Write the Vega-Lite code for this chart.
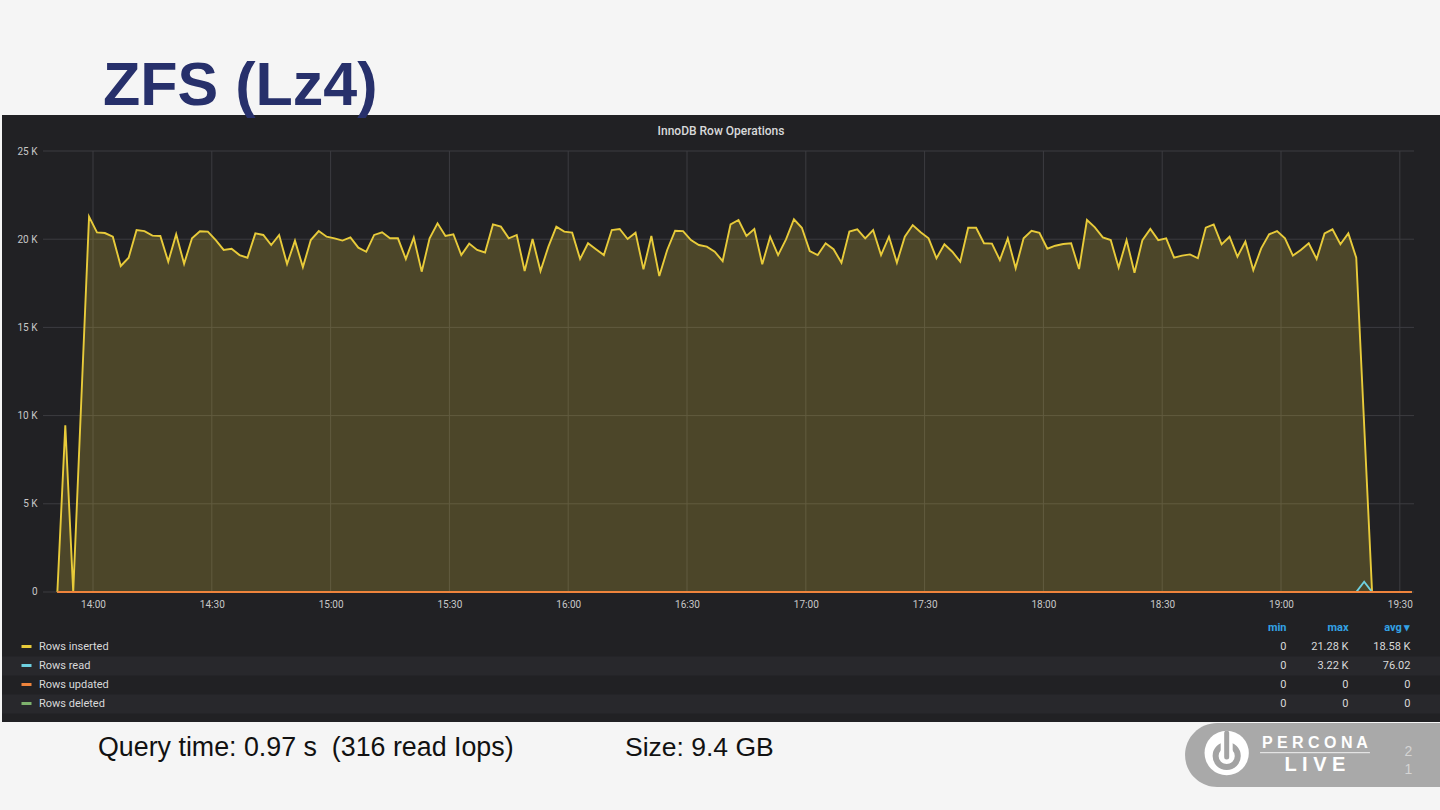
{
  "$schema": "https://vega.github.io/schema/vega-lite/v6.json",
  "width": 1438,
  "height": 607,
  "padding": {"left": 2, "top": 56, "right": 0, "bottom": 23},
  "background": "#f5f5f5",
  "title": {"text": "ZFS (Lz4)", "anchor": "start", "frame": "group", "dx": 101, "offset": -51, "baseline": "alphabetic", "font": "Liberation Sans", "fontSize": 61, "fontWeight": "bold", "color": "#27306b"},
  "config": {
    "view": {"fill": "#212124", "stroke": null},
    "axis": {"labelFont": "Roboto", "labelFontSize": 10, "labelColor": "#c8c8c8", "domain": false, "ticks": false, "grid": false}
  },
  "layer": [
    {
      "data": {
        "format": {"parse": {"time": "date:'%H:%M'"}},
        "values": [
          {"time": "13:51", "series": "Rows inserted", "value": 0},
          {"time": "13:53", "series": "Rows inserted", "value": 9450},
          {"time": "13:55", "series": "Rows inserted", "value": 0},
          {"time": "13:59", "series": "Rows inserted", "value": 21280},
          {"time": "14:01", "series": "Rows inserted", "value": 20390},
          {"time": "14:03", "series": "Rows inserted", "value": 20350},
          {"time": "14:05", "series": "Rows inserted", "value": 20140},
          {"time": "14:07", "series": "Rows inserted", "value": 18480},
          {"time": "14:09", "series": "Rows inserted", "value": 18950},
          {"time": "14:11", "series": "Rows inserted", "value": 20520},
          {"time": "14:13", "series": "Rows inserted", "value": 20460},
          {"time": "14:15", "series": "Rows inserted", "value": 20200},
          {"time": "14:17", "series": "Rows inserted", "value": 20180},
          {"time": "14:19", "series": "Rows inserted", "value": 18730},
          {"time": "14:21", "series": "Rows inserted", "value": 20280},
          {"time": "14:23", "series": "Rows inserted", "value": 18610},
          {"time": "14:25", "series": "Rows inserted", "value": 20050},
          {"time": "14:27", "series": "Rows inserted", "value": 20450},
          {"time": "14:29", "series": "Rows inserted", "value": 20430},
          {"time": "14:31", "series": "Rows inserted", "value": 19950},
          {"time": "14:33", "series": "Rows inserted", "value": 19390},
          {"time": "14:35", "series": "Rows inserted", "value": 19460},
          {"time": "14:37", "series": "Rows inserted", "value": 19100},
          {"time": "14:39", "series": "Rows inserted", "value": 18950},
          {"time": "14:41", "series": "Rows inserted", "value": 20330},
          {"time": "14:43", "series": "Rows inserted", "value": 20240},
          {"time": "14:45", "series": "Rows inserted", "value": 19670},
          {"time": "14:47", "series": "Rows inserted", "value": 20240},
          {"time": "14:49", "series": "Rows inserted", "value": 18590},
          {"time": "14:51", "series": "Rows inserted", "value": 19920},
          {"time": "14:53", "series": "Rows inserted", "value": 18420},
          {"time": "14:55", "series": "Rows inserted", "value": 19950},
          {"time": "14:57", "series": "Rows inserted", "value": 20460},
          {"time": "14:59", "series": "Rows inserted", "value": 20140},
          {"time": "15:01", "series": "Rows inserted", "value": 20050},
          {"time": "15:03", "series": "Rows inserted", "value": 19920},
          {"time": "15:05", "series": "Rows inserted", "value": 20100},
          {"time": "15:07", "series": "Rows inserted", "value": 19520},
          {"time": "15:09", "series": "Rows inserted", "value": 19290},
          {"time": "15:11", "series": "Rows inserted", "value": 20240},
          {"time": "15:13", "series": "Rows inserted", "value": 20390},
          {"time": "15:15", "series": "Rows inserted", "value": 20050},
          {"time": "15:17", "series": "Rows inserted", "value": 20050},
          {"time": "15:19", "series": "Rows inserted", "value": 18880},
          {"time": "15:21", "series": "Rows inserted", "value": 20090},
          {"time": "15:23", "series": "Rows inserted", "value": 18160},
          {"time": "15:25", "series": "Rows inserted", "value": 20050},
          {"time": "15:27", "series": "Rows inserted", "value": 20900},
          {"time": "15:29", "series": "Rows inserted", "value": 20180},
          {"time": "15:31", "series": "Rows inserted", "value": 20280},
          {"time": "15:33", "series": "Rows inserted", "value": 19100},
          {"time": "15:35", "series": "Rows inserted", "value": 19750},
          {"time": "15:37", "series": "Rows inserted", "value": 19390},
          {"time": "15:39", "series": "Rows inserted", "value": 19250},
          {"time": "15:41", "series": "Rows inserted", "value": 20840},
          {"time": "15:43", "series": "Rows inserted", "value": 20710},
          {"time": "15:45", "series": "Rows inserted", "value": 20050},
          {"time": "15:47", "series": "Rows inserted", "value": 20240},
          {"time": "15:49", "series": "Rows inserted", "value": 18200},
          {"time": "15:51", "series": "Rows inserted", "value": 20010},
          {"time": "15:53", "series": "Rows inserted", "value": 18200},
          {"time": "15:55", "series": "Rows inserted", "value": 19580},
          {"time": "15:57", "series": "Rows inserted", "value": 20710},
          {"time": "15:59", "series": "Rows inserted", "value": 20430},
          {"time": "16:01", "series": "Rows inserted", "value": 20370},
          {"time": "16:03", "series": "Rows inserted", "value": 18880},
          {"time": "16:05", "series": "Rows inserted", "value": 19770},
          {"time": "16:07", "series": "Rows inserted", "value": 19430},
          {"time": "16:09", "series": "Rows inserted", "value": 19100},
          {"time": "16:11", "series": "Rows inserted", "value": 20520},
          {"time": "16:13", "series": "Rows inserted", "value": 20580},
          {"time": "16:15", "series": "Rows inserted", "value": 20010},
          {"time": "16:17", "series": "Rows inserted", "value": 20370},
          {"time": "16:19", "series": "Rows inserted", "value": 18290},
          {"time": "16:21", "series": "Rows inserted", "value": 20180},
          {"time": "16:23", "series": "Rows inserted", "value": 17910},
          {"time": "16:25", "series": "Rows inserted", "value": 19390},
          {"time": "16:27", "series": "Rows inserted", "value": 20480},
          {"time": "16:29", "series": "Rows inserted", "value": 20460},
          {"time": "16:31", "series": "Rows inserted", "value": 19950},
          {"time": "16:33", "series": "Rows inserted", "value": 19670},
          {"time": "16:35", "series": "Rows inserted", "value": 19580},
          {"time": "16:37", "series": "Rows inserted", "value": 19290},
          {"time": "16:39", "series": "Rows inserted", "value": 18760},
          {"time": "16:41", "series": "Rows inserted", "value": 20840},
          {"time": "16:43", "series": "Rows inserted", "value": 21090},
          {"time": "16:45", "series": "Rows inserted", "value": 20180},
          {"time": "16:47", "series": "Rows inserted", "value": 20580},
          {"time": "16:49", "series": "Rows inserted", "value": 18580},
          {"time": "16:51", "series": "Rows inserted", "value": 20140},
          {"time": "16:53", "series": "Rows inserted", "value": 19100},
          {"time": "16:55", "series": "Rows inserted", "value": 19990},
          {"time": "16:57", "series": "Rows inserted", "value": 21130},
          {"time": "16:59", "series": "Rows inserted", "value": 20650},
          {"time": "17:01", "series": "Rows inserted", "value": 19330},
          {"time": "17:03", "series": "Rows inserted", "value": 19100},
          {"time": "17:05", "series": "Rows inserted", "value": 19770},
          {"time": "17:07", "series": "Rows inserted", "value": 19430},
          {"time": "17:09", "series": "Rows inserted", "value": 18670},
          {"time": "17:11", "series": "Rows inserted", "value": 20430},
          {"time": "17:13", "series": "Rows inserted", "value": 20560},
          {"time": "17:15", "series": "Rows inserted", "value": 20050},
          {"time": "17:17", "series": "Rows inserted", "value": 20520},
          {"time": "17:19", "series": "Rows inserted", "value": 19100},
          {"time": "17:21", "series": "Rows inserted", "value": 20140},
          {"time": "17:23", "series": "Rows inserted", "value": 18670},
          {"time": "17:25", "series": "Rows inserted", "value": 20140},
          {"time": "17:27", "series": "Rows inserted", "value": 20800},
          {"time": "17:29", "series": "Rows inserted", "value": 20390},
          {"time": "17:31", "series": "Rows inserted", "value": 20050},
          {"time": "17:33", "series": "Rows inserted", "value": 18920},
          {"time": "17:35", "series": "Rows inserted", "value": 19710},
          {"time": "17:37", "series": "Rows inserted", "value": 19290},
          {"time": "17:39", "series": "Rows inserted", "value": 18730},
          {"time": "17:41", "series": "Rows inserted", "value": 20650},
          {"time": "17:43", "series": "Rows inserted", "value": 20650},
          {"time": "17:45", "series": "Rows inserted", "value": 19770},
          {"time": "17:47", "series": "Rows inserted", "value": 19750},
          {"time": "17:49", "series": "Rows inserted", "value": 18820},
          {"time": "17:51", "series": "Rows inserted", "value": 20050},
          {"time": "17:53", "series": "Rows inserted", "value": 18350},
          {"time": "17:55", "series": "Rows inserted", "value": 20050},
          {"time": "17:57", "series": "Rows inserted", "value": 20480},
          {"time": "17:59", "series": "Rows inserted", "value": 20360},
          {"time": "18:01", "series": "Rows inserted", "value": 19460},
          {"time": "18:03", "series": "Rows inserted", "value": 19630},
          {"time": "18:05", "series": "Rows inserted", "value": 19730},
          {"time": "18:07", "series": "Rows inserted", "value": 19770},
          {"time": "18:09", "series": "Rows inserted", "value": 18310},
          {"time": "18:11", "series": "Rows inserted", "value": 21090},
          {"time": "18:13", "series": "Rows inserted", "value": 20670},
          {"time": "18:15", "series": "Rows inserted", "value": 20100},
          {"time": "18:17", "series": "Rows inserted", "value": 19950},
          {"time": "18:19", "series": "Rows inserted", "value": 18390},
          {"time": "18:21", "series": "Rows inserted", "value": 19950},
          {"time": "18:23", "series": "Rows inserted", "value": 18100},
          {"time": "18:25", "series": "Rows inserted", "value": 19950},
          {"time": "18:27", "series": "Rows inserted", "value": 20580},
          {"time": "18:29", "series": "Rows inserted", "value": 19950},
          {"time": "18:31", "series": "Rows inserted", "value": 20050},
          {"time": "18:33", "series": "Rows inserted", "value": 18950},
          {"time": "18:35", "series": "Rows inserted", "value": 19070},
          {"time": "18:37", "series": "Rows inserted", "value": 19140},
          {"time": "18:39", "series": "Rows inserted", "value": 18920},
          {"time": "18:41", "series": "Rows inserted", "value": 20650},
          {"time": "18:43", "series": "Rows inserted", "value": 20840},
          {"time": "18:45", "series": "Rows inserted", "value": 19710},
          {"time": "18:47", "series": "Rows inserted", "value": 20140},
          {"time": "18:49", "series": "Rows inserted", "value": 19010},
          {"time": "18:51", "series": "Rows inserted", "value": 19860},
          {"time": "18:53", "series": "Rows inserted", "value": 18250},
          {"time": "18:55", "series": "Rows inserted", "value": 19480},
          {"time": "18:57", "series": "Rows inserted", "value": 20280},
          {"time": "18:59", "series": "Rows inserted", "value": 20460},
          {"time": "19:01", "series": "Rows inserted", "value": 20050},
          {"time": "19:03", "series": "Rows inserted", "value": 19070},
          {"time": "19:05", "series": "Rows inserted", "value": 19390},
          {"time": "19:07", "series": "Rows inserted", "value": 19770},
          {"time": "19:09", "series": "Rows inserted", "value": 18880},
          {"time": "19:11", "series": "Rows inserted", "value": 20330},
          {"time": "19:13", "series": "Rows inserted", "value": 20560},
          {"time": "19:15", "series": "Rows inserted", "value": 19710},
          {"time": "19:17", "series": "Rows inserted", "value": 20330},
          {"time": "19:19", "series": "Rows inserted", "value": 18950},
          {"time": "19:23", "series": "Rows inserted", "value": 0},
          {"time": "19:25", "series": "Rows inserted", "value": 0},
          {"time": "19:27", "series": "Rows inserted", "value": 0},
          {"time": "19:29", "series": "Rows inserted", "value": 0},
          {"time": "19:31", "series": "Rows inserted", "value": 0},
          {"time": "19:33", "series": "Rows inserted", "value": 0},
          {"time": "13:51", "series": "Rows read", "value": 0},
          {"time": "19:19", "series": "Rows read", "value": 0},
          {"time": "19:21", "series": "Rows read", "value": 580},
          {"time": "19:23", "series": "Rows read", "value": 0},
          {"time": "19:33", "series": "Rows read", "value": 0},
          {"time": "13:51", "series": "Rows deleted", "value": 0},
          {"time": "19:33", "series": "Rows deleted", "value": 0},
          {"time": "13:51", "series": "Rows updated", "value": 0},
          {"time": "19:33", "series": "Rows updated", "value": 0}
        ]
      },
      "layer": [
        {
          "data": {"values": [{"g": 0}, {"g": 5000}, {"g": 10000}, {"g": 15000}, {"g": 20000}, {"g": 25000}]},
          "mark": {"type": "rule", "color": "#3c3c41", "strokeWidth": 1},
          "encoding": {
            "y": {"field": "g", "type": "quantitative"},
            "x": {"datum": {"year": 1900, "month": 1, "date": 1, "hours": 13, "minutes": 47, "seconds": 22}, "type": "temporal"},
            "x2": {"datum": {"year": 1900, "month": 1, "date": 1, "hours": 19, "minutes": 33, "seconds": 36}}
          }
        },
        {
          "data": {
            "format": {"parse": {"g": "date:'%H:%M'"}},
            "values": [{"g": "14:00"}, {"g": "14:30"}, {"g": "15:00"}, {"g": "15:30"}, {"g": "16:00"}, {"g": "16:30"}, {"g": "17:00"}, {"g": "17:30"}, {"g": "18:00"}, {"g": "18:30"}, {"g": "19:00"}, {"g": "19:30"}]
          },
          "mark": {"type": "rule", "color": "#3c3c41", "strokeWidth": 1},
          "encoding": {
            "x": {"field": "g", "type": "temporal"},
            "y": {"datum": 0, "type": "quantitative"},
            "y2": {"datum": 25000}
          }
        },
        {
          "transform": [{"filter": "datum.series == 'Rows inserted'"}],
          "mark": {"type": "area", "color": "#e8cb3a", "fillOpacity": 0.22},
          "encoding": {
            "x": {"field": "time", "type": "temporal"},
            "y": {"field": "value", "type": "quantitative"}
          }
        },
        {
          "mark": {"type": "line", "strokeWidth": 1.9},
          "encoding": {
            "x": {
              "field": "time", "type": "temporal",
              "scale": {"domain": [{"year": 1900, "month": 1, "date": 1, "hours": 13, "minutes": 37, "seconds": 1}, {"year": 1900, "month": 1, "date": 1, "hours": 19, "minutes": 40, "seconds": 9}], "nice": false},
              "axis": {
                "orient": "bottom", "offset": -130, "labelPadding": 7, "title": null, "format": "%H:%M", "labelFlush": false, "labelOverlap": false,
                "values": [
                  {"year": 1900, "month": 1, "date": 1, "hours": 14, "minutes": 0},
                  {"year": 1900, "month": 1, "date": 1, "hours": 14, "minutes": 30},
                  {"year": 1900, "month": 1, "date": 1, "hours": 15, "minutes": 0},
                  {"year": 1900, "month": 1, "date": 1, "hours": 15, "minutes": 30},
                  {"year": 1900, "month": 1, "date": 1, "hours": 16, "minutes": 0},
                  {"year": 1900, "month": 1, "date": 1, "hours": 16, "minutes": 30},
                  {"year": 1900, "month": 1, "date": 1, "hours": 17, "minutes": 0},
                  {"year": 1900, "month": 1, "date": 1, "hours": 17, "minutes": 30},
                  {"year": 1900, "month": 1, "date": 1, "hours": 18, "minutes": 0},
                  {"year": 1900, "month": 1, "date": 1, "hours": 18, "minutes": 30},
                  {"year": 1900, "month": 1, "date": 1, "hours": 19, "minutes": 0},
                  {"year": 1900, "month": 1, "date": 1, "hours": 19, "minutes": 30}
                ]
              }
            },
            "y": {
              "field": "value", "type": "quantitative",
              "scale": {"domain": [-7370, 27041], "nice": false, "zero": false},
              "axis": {"offset": -40, "labelPadding": 5, "title": null, "values": [0, 5000, 10000, 15000, 20000, 25000], "labelExpr": "datum.value == 0 ? '0' : (datum.value / 1000) + ' K'"}
            },
            "color": {
              "field": "series", "type": "nominal",
              "scale": {"domain": ["Rows inserted", "Rows read", "Rows updated", "Rows deleted"], "range": ["#e8cb3a", "#6ed0e0", "#ef843c", "#7eb26d"]},
              "legend": {"orient": "none", "direction": "vertical", "legendX": 18, "legendY": 522, "title": null, "symbolType": "stroke", "symbolSize": 100, "symbolStrokeWidth": 3, "labelFont": "Roboto", "labelFontSize": 11, "labelColor": "#d8d9da", "labelOffset": 6, "clipHeight": 19, "rowPadding": 0, "padding": 0}
            }
          }
        },
        {
          "transform": [{"filter": "datum.series == 'Rows updated'"}],
          "mark": {"type": "line", "color": "#ef843c", "strokeWidth": 2},
          "encoding": {
            "x": {"field": "time", "type": "temporal"},
            "y": {"field": "value", "type": "quantitative"}
          }
        },
        {
          "data": {"values": [{"label": "InnoDB Row Operations"}]},
          "mark": {"type": "text", "font": "Roboto", "fontSize": 12, "fontWeight": 500, "color": "#d8d9da", "align": "center", "baseline": "middle"},
          "encoding": {
            "x": {"datum": {"year": 1900, "month": 1, "date": 1, "hours": 16, "minutes": 38, "seconds": 35}, "type": "temporal"},
            "y": {"datum": 26134, "type": "quantitative"},
            "text": {"field": "label"}
          }
        },
        {
          "data": {"values": [{"label": "Query time: 0.97 s \u00a0(316 read Iops)"}]},
          "mark": {"type": "text", "font": "Liberation Sans", "fontSize": 26.8, "color": "#111111", "align": "left", "baseline": "middle"},
          "encoding": {
            "x": {"datum": {"year": 1900, "month": 1, "date": 1, "hours": 14, "minutes": 1, "seconds": 16}, "type": "temporal"},
            "y": {"datum": -8844, "type": "quantitative"},
            "text": {"field": "label"}
          }
        },
        {
          "data": {"values": [{"label": "Size: 9.4 GB"}]},
          "mark": {"type": "text", "font": "Liberation Sans", "fontSize": 26.5, "color": "#111111", "align": "left", "baseline": "middle"},
          "encoding": {
            "x": {"datum": {"year": 1900, "month": 1, "date": 1, "hours": 16, "minutes": 14, "seconds": 20}, "type": "temporal"},
            "y": {"datum": -8844, "type": "quantitative"},
            "text": {"field": "label"}
          }
        },
        {
          "data": {"values": [{"part": "pill"}]},
          "mark": {"type": "rect", "color": "#a9a9a9", "cornerRadiusTopLeft": 32, "cornerRadiusBottomLeft": 32},
          "encoding": {
            "x": {"datum": {"year": 1900, "month": 1, "date": 1, "hours": 18, "minutes": 35, "seconds": 46}, "type": "temporal"},
            "x2": {"datum": {"year": 1900, "month": 1, "date": 1, "hours": 19, "minutes": 40, "seconds": 9}},
            "y": {"datum": -7426, "type": "quantitative"},
            "y2": {"datum": -11054}
          }
        },
        {
          "data": {"values": [{"part": "badge"}]},
          "mark": {"type": "point", "shape": "circle", "filled": true, "color": "#ffffff", "opacity": 1, "size": 1963},
          "encoding": {
            "x": {"datum": {"year": 1900, "month": 1, "date": 1, "hours": 18, "minutes": 46, "seconds": 17}, "type": "temporal"},
            "y": {"datum": -9127, "type": "quantitative"}
          }
        },
        {
          "data": {"values": [{"part": "ring"}]},
          "mark": {"type": "point", "shape": "circle", "filled": false, "color": "#a3a3a3", "opacity": 1, "strokeWidth": 6, "size": 491},
          "encoding": {
            "x": {"datum": {"year": 1900, "month": 1, "date": 1, "hours": 18, "minutes": 46, "seconds": 17}, "type": "temporal"},
            "y": {"datum": -9297, "type": "quantitative"}
          }
        },
        {
          "data": {"values": [{"part": "gap"}]},
          "mark": {"type": "rule", "color": "#ffffff", "strokeWidth": 12},
          "encoding": {
            "x": {"datum": {"year": 1900, "month": 1, "date": 1, "hours": 18, "minutes": 46, "seconds": 17}, "type": "temporal"},
            "y": {"datum": -8163, "type": "quantitative"},
            "y2": {"datum": -9070}
          }
        },
        {
          "data": {"values": [{"part": "bar"}]},
          "mark": {"type": "rule", "color": "#a3a3a3", "strokeWidth": 5, "strokeCap": "round"},
          "encoding": {
            "x": {"datum": {"year": 1900, "month": 1, "date": 1, "hours": 18, "minutes": 46, "seconds": 17}, "type": "temporal"},
            "y": {"datum": -7993, "type": "quantitative"},
            "y2": {"datum": -9354}
          }
        },
        {
          "data": {"values": [{"part": "line"}]},
          "mark": {"type": "rule", "color": "#f0f0f0", "strokeWidth": 1},
          "encoding": {
            "x": {"datum": {"year": 1900, "month": 1, "date": 1, "hours": 18, "minutes": 54, "seconds": 42}, "type": "temporal"},
            "x2": {"datum": {"year": 1900, "month": 1, "date": 1, "hours": 19, "minutes": 22, "seconds": 28}},
            "y": {"datum": -9110, "type": "quantitative"}
          }
        },
        {
          "data": {"values": [{"label": "P E R C O N A"}]},
          "mark": {"type": "text", "font": "Liberation Sans", "fontSize": 16, "fontWeight": "bold", "color": "#ffffff", "align": "center", "baseline": "middle"},
          "encoding": {
            "x": {"datum": {"year": 1900, "month": 1, "date": 1, "hours": 19, "minutes": 8, "seconds": 35}, "type": "temporal"},
            "y": {"datum": -8577, "type": "quantitative"},
            "text": {"field": "label"}
          }
        },
        {
          "data": {"values": [{"label": "L I V E"}]},
          "mark": {"type": "text", "font": "Liberation Sans", "fontSize": 20, "fontWeight": "bold", "color": "#ffffff", "align": "center", "baseline": "middle"},
          "encoding": {
            "x": {"datum": {"year": 1900, "month": 1, "date": 1, "hours": 19, "minutes": 8, "seconds": 35}, "type": "temporal"},
            "y": {"datum": -9835, "type": "quantitative"},
            "text": {"field": "label"}
          }
        },
        {
          "data": {"values": [{"label": "2"}]},
          "mark": {"type": "text", "font": "Liberation Sans", "fontSize": 14, "color": "#d4d4d4", "align": "center", "baseline": "middle"},
          "encoding": {
            "x": {"datum": {"year": 1900, "month": 1, "date": 1, "hours": 19, "minutes": 32, "seconds": 9}, "type": "temporal"},
            "y": {"datum": -9070, "type": "quantitative"},
            "text": {"field": "label"}
          }
        },
        {
          "data": {"values": [{"label": "1"}]},
          "mark": {"type": "text", "font": "Liberation Sans", "fontSize": 14, "color": "#d4d4d4", "align": "center", "baseline": "middle"},
          "encoding": {
            "x": {"datum": {"year": 1900, "month": 1, "date": 1, "hours": 19, "minutes": 32, "seconds": 9}, "type": "temporal"},
            "y": {"datum": -10090, "type": "quantitative"},
            "text": {"field": "label"}
          }
        }
      ]
    },
    {
      "data": {
        "values": [
          {"row": "Rows inserted", "min": "0", "max": "21.28 K", "avg": "18.58 K"},
          {"row": "Rows read", "min": "0", "max": "3.22 K", "avg": "76.02"},
          {"row": "Rows updated", "min": "0", "max": "0", "avg": "0"},
          {"row": "Rows deleted", "min": "0", "max": "0", "avg": "0"}
        ]
      },
      "encoding": {
        "y": {"field": "row", "type": "nominal", "scale": {"type": "band", "domain": ["header", "Rows inserted", "Rows read", "Rows updated", "Rows deleted"], "range": [503.5, 598.5], "paddingInner": 0, "paddingOuter": 0}, "axis": null}
      },
      "layer": [
        {
          "transform": [{"filter": "datum.row == 'Rows read' || datum.row == 'Rows deleted'"}],
          "mark": {"type": "rect", "color": "#28282c"}
        },
        {
          "data": {"values": [{"row": "header", "col": "min", "label": "min"}, {"row": "header", "col": "max", "label": "max"}, {"row": "header", "col": "avg", "label": "avg ▾"}]},
          "mark": {"type": "text", "align": "right", "baseline": "middle", "font": "Roboto", "fontSize": 11, "fontWeight": "bold", "color": "#33a2e5"},
          "encoding": {
            "x": {"field": "col", "type": "nominal", "scale": {"type": "point", "domain": ["min", "max", "avg"], "range": [1284.5, 1408.5], "padding": 0}, "axis": null},
            "text": {"field": "label"}
          }
        },
        {
          "transform": [{"fold": ["min", "max", "avg"], "as": ["col", "label"]}],
          "mark": {"type": "text", "align": "right", "baseline": "middle", "font": "Roboto", "fontSize": 11, "color": "#d8d9da"},
          "encoding": {
            "x": {"field": "col", "type": "nominal", "scale": {"type": "point", "domain": ["min", "max", "avg"], "range": [1284.5, 1408.5], "padding": 0}, "axis": null},
            "text": {"field": "label"}
          }
        }
      ]
    }
  ],
  "resolve": {"scale": {"x": "independent", "y": "independent"}}
}
